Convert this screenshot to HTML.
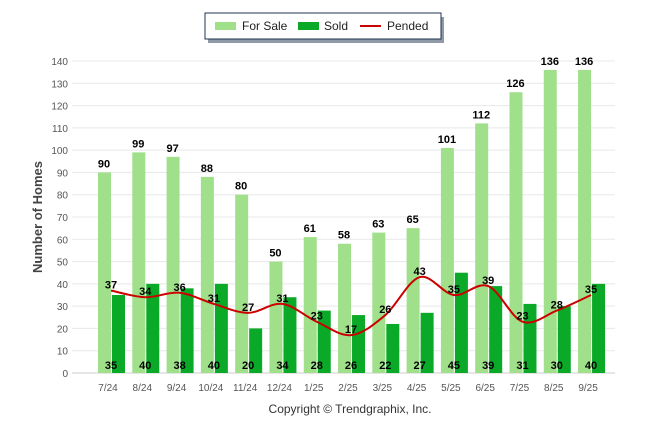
<!DOCTYPE html>
<html><head><meta charset="utf-8"><style>
body{margin:0;background:#fff;width:646px;height:434px;overflow:hidden;font-family:"Liberation Sans",Arial,sans-serif}
</style></head><body>
<svg id="chart" width="646" height="434" xmlns="http://www.w3.org/2000/svg" font-family="Liberation Sans, Arial, sans-serif">
<g>
<rect x="206" y="15" width="236" height="26" fill="#1f3352" opacity="0.5" transform="translate(2,2)"/>
<rect x="205" y="13" width="236" height="26" fill="#fff" stroke="#1f3352" stroke-width="1"/>
<g><rect x="215" y="22" width="21" height="8" fill="#a0e08a"/><text x="242" y="30" font-size="12" fill="#222">For Sale</text></g>
<g><rect x="298" y="22" width="21" height="8" fill="#0aa927"/><text x="324" y="30" font-size="12" fill="#222">Sold</text></g>
<g><rect x="360" y="25" width="21" height="2" fill="#cc0000"/><text x="387" y="30" font-size="12" fill="#222">Pended</text></g>
</g>
<text transform="translate(42,217) rotate(-90)" text-anchor="middle" font-size="13" font-weight="bold" fill="#444">Number of Homes</text>
<text x="350" y="413" text-anchor="middle" font-size="12" fill="#333">Copyright © Trendgraphix, Inc.</text>
<g id="grid"></g><g id="bars"></g><g id="line"></g><g id="labels"></g>
</svg>
<script>
const categories=["7/24","8/24","9/24","10/24","11/24","12/24","1/25","2/25","3/25","4/25","5/25","6/25","7/25","8/25","9/25"];
const forSale=[90,99,97,88,80,50,61,58,63,65,101,112,126,136,136];
const sold=[35,40,38,40,20,34,28,26,22,27,45,39,31,30,40];
const pended=[37,34,36,31,27,31,23,17,26,43,35,39,23,28,35];
const yTicks=[0,10,20,30,40,50,60,70,80,90,100,110,120,130,140];
const NS="http://www.w3.org/2000/svg";
const y=v=>373-v*(312/140);
const x=i=>107+i*34.29;
function el(t,a,p){const e=document.createElementNS(NS,t);for(const k in a)e.setAttribute(k,a[k]);document.getElementById(p).appendChild(e);return e;}
yTicks.forEach(v=>{
 const g=el('line',{x1:72,x2:615,y1:y(v),y2:y(v),stroke:v?'#e8e8e8':'#ccc'},'grid');
 
 
 const t=el('text',{x:68,y:y(v)+4,'text-anchor':'end','font-size':10,fill:'#555'},'grid');t.textContent=v;
 
 
});
categories.forEach((c,i)=>{
 const t=el('text',{x:x(i)+1,y:391,'text-anchor':'middle','font-size':10,fill:'#555'},'grid');t.textContent=c;
 
 
 const b1=el('rect',{x:x(i)-9,y:y(forSale[i]),width:13,height:373-y(forSale[i]),fill:'#a0e08a'},'bars');
 
 
 const b2=el('rect',{x:x(i)+5,y:y(sold[i]),width:13,height:373-y(sold[i]),fill:'#0aa927'},'bars');
 
 
 const l1=el('text',{x:x(i)-3,y:y(forSale[i])-5,'text-anchor':'middle','font-size':11,'font-weight':'bold',fill:'#000'},'labels');l1.textContent=forSale[i];
 
 
 const l2=el('text',{x:x(i)+4,y:369,'text-anchor':'middle','font-size':11,'font-weight':'bold',fill:'#000'},'labels');l2.textContent=sold[i];
 
 
 const l3=el('text',{x:x(i)+4,y:y(pended[i])-2,'text-anchor':'middle','font-size':11,'font-weight':'bold',fill:'#000'},'labels');l3.textContent=pended[i];
 
 
});
const pts=pended.map((v,i)=>[x(i)+4,y(v)]);
let d='M'+pts[0][0]+','+pts[0][1];
for(let i=0;i<pts.length-1;i++){
 const p0=pts[Math.max(0,i-1)],p1=pts[i],p2=pts[i+1],p3=pts[Math.min(pts.length-1,i+2)];
 const c1=[p1[0]+(p2[0]-p0[0])/6,p1[1]+(p2[1]-p0[1])/6],c2=[p2[0]-(p3[0]-p1[0])/6,p2[1]-(p3[1]-p1[1])/6];
 d+=` C${c1[0]},${c1[1]} ${c2[0]},${c2[1]} ${p2[0]},${p2[1]}`;
}
const ln=el('path',{d:d,fill:'none',stroke:'#cc0000','stroke-width':2},'line');


</script>
</body></html>
